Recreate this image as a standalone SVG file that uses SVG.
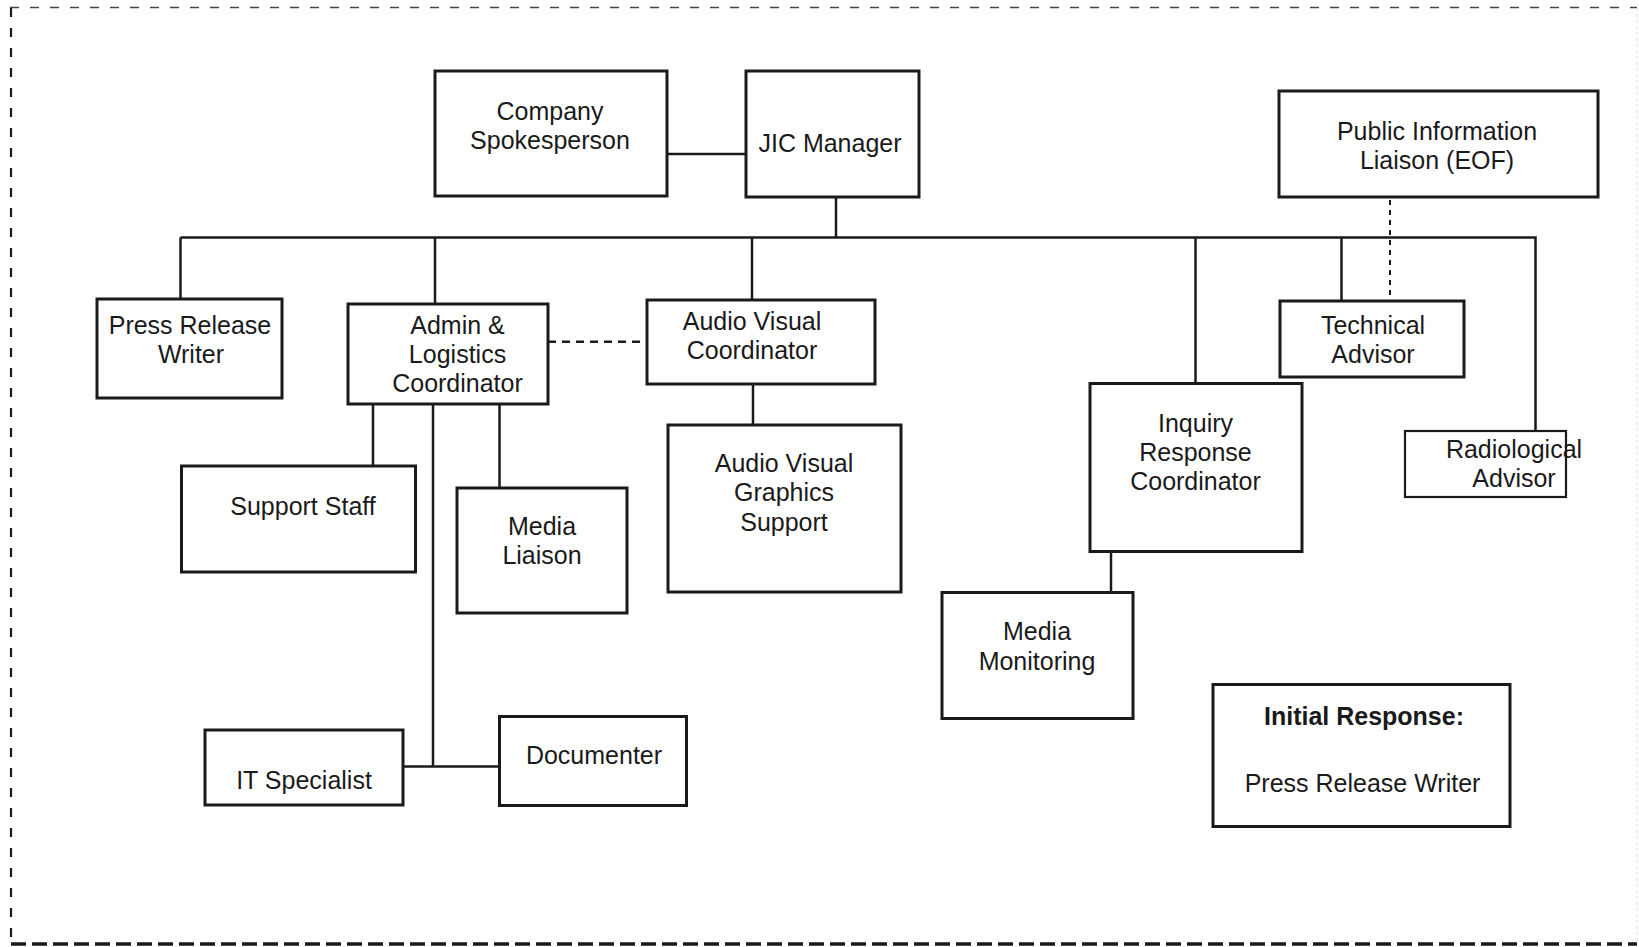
<svg xmlns="http://www.w3.org/2000/svg" width="1639" height="947" viewBox="0 0 1639 947">
<style>
.box{fill:#fff;stroke:#1a1a1a;stroke-width:3}
.thin{stroke-width:2.2}
.t{font-family:"Liberation Sans",Arial,sans-serif;font-size:25px;fill:#1a1a1a;text-anchor:middle}
.b{font-weight:bold}
.ln{fill:none;stroke:#1a1a1a;stroke-width:2.5}
.dash{fill:none;stroke:#1a1a1a;stroke-width:2.5;stroke-dasharray:8 6}
.dash2{fill:none;stroke:#1a1a1a;stroke-width:2;stroke-dasharray:5 5}
</style>
<rect width="1639" height="947" fill="#fff"/>
<g id="frame">
<line x1="10" y1="7.5" x2="1637" y2="7.5" stroke="#444" stroke-width="1.6" stroke-dasharray="9 11"/>
<line x1="11" y1="8" x2="11" y2="944" stroke="#1a1a1a" stroke-width="2.2" stroke-dasharray="9 11"/>
<line x1="11" y1="944" x2="1637" y2="944" stroke="#1a1a1a" stroke-width="3.5" stroke-dasharray="15 6"/>
<line x1="1637" y1="8" x2="1637" y2="944" stroke="#ddd" stroke-width="1" stroke-dasharray="3 3"/>
</g>
<g id="connectors">
<path class="ln" d="M667 154 H746"/>
<path class="ln" d="M836 197 V237.5"/>
<path class="ln" d="M180.5 237.5 H1535.5 V431"/>
<path class="ln" d="M180.5 237.5 V299"/>
<path class="ln" d="M435 237.5 V304"/>
<path class="ln" d="M752 237.5 V300"/>
<path class="ln" d="M1195.5 237.5 V383.5"/>
<path class="ln" d="M1341.5 237.5 V301"/>
<path class="ln" d="M753 384 V425"/>
<path class="ln" d="M373 404 V466"/>
<path class="ln" d="M499.5 404 V488"/>
<path class="ln" d="M433 404 V766.5"/>
<path class="ln" d="M403 766.5 H499.5"/>
<path class="ln" d="M1111 551.5 V592.5"/>
<path class="dash" d="M548 341.7 H647"/>
<path class="dash2" d="M1390 190 V301"/>
</g>
<g id="company-spokesperson"><rect class="box" x="435" y="71" width="232" height="125"/><text class="t" x="550" y="119.5">Company</text><text class="t" x="550" y="148.5">Spokesperson</text></g>
<g id="jic-manager"><rect class="box" x="746" y="71" width="173" height="126"/><text class="t" x="830" y="151.5">JIC Manager</text></g>
<g id="public-information-liaison"><rect class="box" x="1279" y="91" width="319" height="106"/><text class="t" x="1437" y="139.5">Public Information</text><text class="t" x="1437" y="168.5">Liaison (EOF)</text></g>
<g id="press-release-writer"><rect class="box" x="97" y="299" width="185" height="99"/><text class="t" x="190" y="333.5">Press Release</text><text class="t" x="191" y="362.5">Writer</text></g>
<g id="admin-logistics"><rect class="box" x="348" y="304" width="200" height="100"/><text class="t" x="457.5" y="333.5">Admin &amp;</text><text class="t" x="457.5" y="363">Logistics</text><text class="t" x="457.5" y="392">Coordinator</text></g>
<g id="audio-visual-coordinator"><rect class="box" x="647" y="300" width="228" height="84"/><text class="t" x="752" y="330">Audio Visual</text><text class="t" x="752" y="358.5">Coordinator</text></g>
<g id="technical-advisor"><rect class="box" x="1280" y="301" width="184" height="76"/><text class="t" x="1373" y="333.5">Technical</text><text class="t" x="1373" y="362.5">Advisor</text></g>
<g id="support-staff"><rect class="box" x="181.5" y="466" width="234" height="106"/><text class="t" x="303" y="514.5">Support Staff</text></g>
<g id="media-liaison"><rect class="box" x="457" y="488" width="170" height="125"/><text class="t" x="542" y="534.5">Media</text><text class="t" x="542" y="564">Liaison</text></g>
<g id="av-graphics-support"><rect class="box" x="668" y="425" width="233" height="167"/><text class="t" x="784" y="472">Audio Visual</text><text class="t" x="784" y="501">Graphics</text><text class="t" x="784" y="530.5">Support</text></g>
<g id="inquiry-response"><rect class="box" x="1090" y="383.5" width="212" height="168"/><text class="t" x="1195.5" y="432">Inquiry</text><text class="t" x="1195.5" y="461">Response</text><text class="t" x="1195.5" y="490">Coordinator</text></g>
<g id="radiological-advisor"><rect class="box thin" x="1405" y="431" width="161" height="66"/><text class="t" x="1514" y="457.5">Radiological</text><text class="t" x="1514" y="487">Advisor</text></g>
<g id="media-monitoring"><rect class="box" x="942" y="592.5" width="191" height="126"/><text class="t" x="1037" y="640">Media</text><text class="t" x="1037" y="669.5">Monitoring</text></g>
<g id="it-specialist"><rect class="box" x="205" y="730" width="198" height="75"/><text class="t" x="304" y="789">IT Specialist</text></g>
<g id="documenter"><rect class="box" x="499.5" y="716.5" width="187" height="89"/><text class="t" x="594" y="764">Documenter</text></g>
<g id="initial-response"><rect class="box" x="1213" y="684.5" width="297" height="142"/><text class="t b" x="1364" y="724.5">Initial Response:</text><text class="t" x="1362.5" y="791.5">Press Release Writer</text></g>
</svg>
